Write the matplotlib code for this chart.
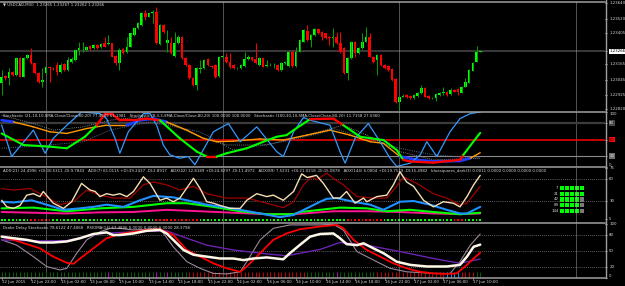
import numpy as np
import matplotlib
matplotlib.use("Agg")
import matplotlib.pyplot as plt
from matplotlib.collections import LineCollection
from matplotlib.lines import Line2D
from matplotlib.transforms import blended_transform_factory

plt.rcParams['font.family'] = ['DejaVu Sans']

# ---- USDCAD M30 candles (bar 0 = 12 Jun 18:00) ----
opens = [
    1.23018, 1.23075, 1.23057, 1.23108, 1.23082, 1.23212, 1.23070, 1.23212, 1.23237, 1.23173,
    1.23101, 1.23031, 1.23095, 1.23147, 1.23137, 1.23160, 1.23108, 1.23168, 1.23121, 1.23186,
    1.23199, 1.23276, 1.23281, 1.23276, 1.23307, 1.23289, 1.23315, 1.23297, 1.23333, 1.23322,
    1.23328, 1.23230, 1.23178, 1.23281, 1.23263, 1.23302, 1.23392, 1.23444, 1.23469, 1.23560,
    1.23534, 1.23560, 1.23573, 1.23320, 1.23469, 1.23328, 1.23333, 1.23230, 1.23328, 1.23379,
    1.23212, 1.23160, 1.23057, 1.23005, 1.23131, 1.23134, 1.23204, 1.23152, 1.23160, 1.23075,
    1.23219, 1.23224, 1.23186, 1.23160, 1.23134, 1.23134, 1.23152, 1.23204, 1.23219, 1.23204,
    1.23160, 1.23212, 1.23155, 1.23157, 1.23157, 1.23160, 1.23121, 1.23173, 1.23152, 1.23263,
    1.23152, 1.23263, 1.23340, 1.23426, 1.23353, 1.23392, 1.23436, 1.23415, 1.23405, 1.23379,
    1.23366, 1.23379, 1.23328, 1.23289, 1.23095, 1.23212, 1.23340, 1.23250, 1.23289, 1.23340,
    1.23379, 1.23224, 1.23199, 1.23237, 1.23160, 1.23152, 1.23126, 1.23049, 1.22876, 1.22915,
    1.22928, 1.22920, 1.22902, 1.22920, 1.22941, 1.22979, 1.22920, 1.22902, 1.22902, 1.22928,
    1.22941, 1.22948, 1.22933, 1.22966, 1.22972, 1.22946, 1.22992, 1.23023, 1.23116, 1.23186,
    1.23263]
highs = [
    1.23121, 1.23082, 1.23134, 1.23116, 1.23219, 1.23219, 1.23224, 1.23245, 1.23289, 1.23178,
    1.23108, 1.23134, 1.23152, 1.23152, 1.23147, 1.23186, 1.23173, 1.23178, 1.23224, 1.23219,
    1.23281, 1.23340, 1.23340, 1.23307, 1.23315, 1.23322, 1.23322, 1.23328, 1.23379, 1.23392,
    1.23333, 1.23237, 1.23289, 1.23289, 1.23379, 1.23410, 1.23457, 1.23495, 1.23573, 1.23586,
    1.23565, 1.23586, 1.23611, 1.23477, 1.23477, 1.23431, 1.23374, 1.23418, 1.23392, 1.23384,
    1.23219, 1.23168, 1.23064, 1.23142, 1.23199, 1.23209, 1.23212, 1.23160, 1.23168, 1.23224,
    1.23237, 1.23250, 1.23255, 1.23168, 1.23147, 1.23168, 1.23263, 1.23237, 1.23224, 1.23328,
    1.23219, 1.23217, 1.23199, 1.23173, 1.23173, 1.23168, 1.23186, 1.23193, 1.23271, 1.23276,
    1.23302, 1.23359, 1.23436, 1.23469, 1.23400, 1.23444, 1.23444, 1.23423, 1.23410, 1.23384,
    1.23444, 1.23418, 1.23418, 1.23302, 1.23219, 1.23348, 1.23348, 1.23297, 1.23405, 1.23457,
    1.23405, 1.23230, 1.23245, 1.23245, 1.23168, 1.23160, 1.23134, 1.23057, 1.22928, 1.22933,
    1.22935, 1.22928, 1.22935, 1.22954, 1.23005, 1.22987, 1.22928, 1.22915, 1.22941, 1.22954,
    1.22992, 1.22961, 1.22979, 1.22972, 1.22979, 1.23000, 1.23057, 1.23129, 1.23186, 1.23307,
    1.23271]
lows = [
    1.22928, 1.23044, 1.23005, 1.23075, 1.23075, 1.23064, 1.23064, 1.23204, 1.23168, 1.23090,
    1.23023, 1.22992, 1.23090, 1.23031, 1.23121, 1.23082, 1.23101, 1.23116, 1.23116, 1.23178,
    1.23193, 1.23237, 1.23263, 1.23271, 1.23276, 1.23284, 1.23281, 1.23289, 1.23297, 1.23315,
    1.23219, 1.23160, 1.23121, 1.23245, 1.23250, 1.23297, 1.23387, 1.23436, 1.23464, 1.23508,
    1.23529, 1.23482, 1.23322, 1.23315, 1.23410, 1.23263, 1.23245, 1.23219, 1.23322, 1.23204,
    1.23152, 1.23049, 1.22997, 1.22966, 1.23095, 1.23126, 1.23152, 1.23134, 1.23057, 1.23070,
    1.23212, 1.23178, 1.23139, 1.23126, 1.23126, 1.23129, 1.23147, 1.23199, 1.23193, 1.23165,
    1.23152, 1.23142, 1.23147, 1.23152, 1.23134, 1.23116, 1.23116, 1.23168, 1.23147, 1.23147,
    1.23147, 1.23258, 1.23335, 1.23348, 1.23302, 1.23387, 1.23400, 1.23353, 1.23361, 1.23315,
    1.23302, 1.23322, 1.23255, 1.23090, 1.23044, 1.23206, 1.23224, 1.23245, 1.23284, 1.23335,
    1.23219, 1.23178, 1.23082, 1.23152, 1.23126, 1.23113, 1.23039, 1.22868, 1.22812, 1.22910,
    1.22907, 1.22897, 1.22894, 1.22915, 1.22935, 1.22910, 1.22894, 1.22894, 1.22884, 1.22923,
    1.22928, 1.22923, 1.22928, 1.22948, 1.22928, 1.22941, 1.22987, 1.23018, 1.23111, 1.23181,
    1.23258]
closes = [
    1.23070, 1.23057, 1.23108, 1.23082, 1.23212, 1.23070, 1.23212, 1.23237, 1.23173, 1.23095,
    1.23031, 1.23044, 1.23147, 1.23137, 1.23134, 1.23108, 1.23160, 1.23121, 1.23199, 1.23204,
    1.23276, 1.23289, 1.23286, 1.23302, 1.23281, 1.23315, 1.23289, 1.23320, 1.23302, 1.23333,
    1.23224, 1.23173, 1.23276, 1.23250, 1.23302, 1.23405, 1.23444, 1.23482, 1.23560, 1.23534,
    1.23560, 1.23573, 1.23328, 1.23469, 1.23418, 1.23353, 1.23250, 1.23328, 1.23379, 1.23212,
    1.23160, 1.23057, 1.23005, 1.23134, 1.23137, 1.23199, 1.23160, 1.23144, 1.23070, 1.23219,
    1.23227, 1.23186, 1.23147, 1.23134, 1.23139, 1.23160, 1.23204, 1.23219, 1.23199, 1.23173,
    1.23212, 1.23147, 1.23162, 1.23162, 1.23160, 1.23121, 1.23178, 1.23183, 1.23263, 1.23152,
    1.23263, 1.23353, 1.23431, 1.23353, 1.23392, 1.23436, 1.23405, 1.23379, 1.23366, 1.23366,
    1.23379, 1.23328, 1.23263, 1.23095, 1.23212, 1.23340, 1.23250, 1.23289, 1.23340, 1.23374,
    1.23224, 1.23186, 1.23237, 1.23160, 1.23134, 1.23121, 1.23044, 1.22876, 1.22915, 1.22923,
    1.22915, 1.22902, 1.22928, 1.22946, 1.22979, 1.22915, 1.22902, 1.22904, 1.22933, 1.22946,
    1.22948, 1.22928, 1.22966, 1.22954, 1.22954, 1.22992, 1.23031, 1.23121, 1.23178, 1.23263,
    1.23266]
bid = 1.23266
price_ticks = [1.23640, 1.23520, 1.23405, 1.23165, 1.23045, 1.22925, 1.22820]

x_labels = ["12 Jun 2015", "12 Jun 22:00", "15 Jun 02:00", "15 Jun 06:00", "15 Jun 10:00",
            "15 Jun 14:00", "15 Jun 18:00", "15 Jun 22:00", "16 Jun 02:00", "16 Jun 06:00",
            "16 Jun 10:00", "16 Jun 14:00", "16 Jun 18:00", "16 Jun 22:00", "17 Jun 02:00",
            "17 Jun 06:00", "17 Jun 10:00"]
label_step = 8
day_starts = [12, 60, 108, 156]

# ---- stochastics (bar, value) ----
stoch_fast = [(0, 76), (2.7, 19), (8.6, 67), (11.8, 25), (14, 52), (17.7, 76), (21.7, 100),
              (26.7, 97), (28.5, 88), (30.8, 52), (32.1, 25), (34.4, 64), (38.5, 97), (40.3, 97),
              (42.1, 76), (43.9, 40), (45.7, 22), (48.4, 16), (50.7, 19), (52.5, 4), (57.5, 64),
              (61.6, 79), (64.8, 46), (69.3, 73), (74.7, 28), (76.5, 19), (79.3, 64), (82, 90),
              (83.8, 85), (89.2, 76), (91.9, 28), (93.3, 7), (96, 52), (99.6, 79), (102.8, 46),
              (105.5, 16), (107.3, 1), (111, 7), (113.7, 22), (115.5, 46), (118.2, 19),
              (121.8, 64), (124.5, 88), (127.3, 97), (130, 100)]
stoch_mid = [(0, 61), (5.9, 40), (13.1, 37), (17.7, 34), (22.6, 55), (25.8, 76), (28.1, 97),
             (29.9, 97), (32.1, 85), (35.8, 85), (39.4, 88), (43, 85), (48.4, 52), (53, 28),
             (55.7, 19), (58.4, 19), (61.1, 25), (66.6, 34), (71.1, 46), (74.7, 55), (77.4, 58),
             (79.3, 67), (83.8, 87), (90.1, 88), (92.8, 76), (97.4, 55), (100.5, 52), (103.7, 49),
             (107.3, 31), (109.1, 13), (111, 10), (117.3, 8), (124.5, 13), (125.4, 22),
             (129.5, 58), (130, 62)]
stoch_slow = [(0, 85), (3.2, 82), (8.6, 73), (13.1, 64), (17.7, 61), (23.1, 70), (28.5, 76),
              (34, 76), (37.6, 85), (41.2, 88), (44.8, 82), (50.3, 67), (54.8, 52), (58.4, 46),
              (62.9, 47), (70.2, 51), (76.5, 49), (82.9, 58), (89.2, 67), (94.6, 58), (100.1, 46),
              (103.7, 43), (108.2, 19), (112.8, 13), (117.3, 10), (124.5, 11), (127.3, 16),
              (130, 26)]
stoch_sig_a = [(0, 94), (8.6, 79), (14, 67), (22.2, 73), (29.4, 85), (37.6, 91), (46.6, 76),
               (53.9, 55), (61.1, 40), (72, 40), (81.1, 55), (92.8, 76), (99.2, 58), (108.2, 28),
               (117.3, 13), (130, 16)]
stoch_sig_b = [(0, 34), (13.1, 40), (22.2, 46), (29.4, 67), (40.3, 82), (53.9, 64), (62.9, 31),
               (76.5, 46), (86.5, 61), (90.1, 70), (99.2, 52), (108.2, 34), (117.3, 22), (130, 16)]

# ---- ADX pane ----
adx_fast = [(0, 31), (1.4, 22), (3.2, 20), (5, 24), (6.8, 38), (8.6, 40), (10.4, 36), (11.3, 43),
            (14, 27), (16.8, 20), (19, 29), (21.7, 54), (24, 45), (25.4, 43), (26.7, 36),
            (28.5, 40), (30.3, 38), (32.1, 40), (34, 36), (35.8, 43), (38.5, 63), (40.3, 54),
            (43, 31), (44.8, 34), (46.6, 29), (48.4, 34), (52.1, 61), (53.9, 47), (55.7, 29),
            (57.5, 27), (59.3, 24), (62, 20), (64.8, 20), (66.6, 31), (69.3, 40), (72, 36),
            (73.8, 38), (76.5, 31), (79.3, 43), (81.5, 67), (83, 62), (85.5, 65), (87.4, 54),
            (90.1, 34), (91.9, 34), (93.7, 43), (96, 27), (98.3, 34), (99.2, 29), (101.9, 36),
            (104.6, 38), (106.4, 52), (108.2, 70), (110, 56), (111.9, 50), (114.6, 31),
            (117.3, 22), (120, 29), (122.7, 27), (124.5, 22), (126.4, 36), (128.2, 52), (130, 65)]
adx_21 = [(0, 47), (3.2, 45), (7.7, 47), (11.3, 38), (15.8, 25), (19.5, 29), (23.1, 45),
          (26.7, 38), (30.3, 34), (34.9, 34), (38.5, 52), (41.2, 56), (44.8, 52), (48.4, 45),
          (52.1, 50), (55.7, 40), (61.1, 34), (66.6, 34), (72, 27), (76.5, 21), (79.3, 29),
          (82, 52), (84.2, 63), (85.6, 59), (88.3, 68), (90.1, 61), (92.8, 52), (96.5, 36),
          (101, 34), (104.6, 34), (107.3, 50), (109.1, 63), (112.8, 54), (117.3, 40),
          (120.9, 34), (124.5, 25), (126.4, 27), (130, 50)]
adx_42 = [(0, 29), (3.2, 28), (8.1, 31), (12.2, 25), (16.8, 18), (21.3, 20), (24.9, 22),
          (28.5, 25), (33.1, 22), (37.6, 31), (41.2, 37), (46.6, 35), (50.3, 31), (55.7, 25),
          (61.1, 21), (64.8, 18), (70.2, 13), (75.6, 8), (79.3, 11), (82.9, 20), (86.5, 29),
          (88.3, 33), (91, 34), (95.6, 29), (100.1, 25), (103.7, 18), (108.2, 29), (111.9, 30),
          (116.4, 25), (120.9, 18), (124.5, 13), (126.4, 13), (130, 22)]
adx_89 = [(0, 20), (8.6, 21), (17.7, 16), (26.7, 20), (35.8, 22), (44.8, 27), (50.3, 27),
          (57.5, 22), (64.8, 16), (72, 12), (79.3, 12), (81.1, 15), (86.5, 18), (91.9, 21),
          (99.2, 20), (104.6, 16), (111, 18), (117.3, 15), (124.5, 12), (130, 14)]
adx_144 = [(0, 15), (8.6, 14), (17.7, 13), (26.7, 14.5), (35.8, 15), (44.8, 18), (53.9, 16),
           (62.9, 14), (72, 12), (79.3, 12), (90.1, 16), (99.2, 16), (108.2, 15), (117.3, 13),
           (124.5, 12), (130, 13)]
adx_dot_runs = [('g', 8), ('r', 6), ('g', 28), ('r', 12), ('g', 40), ('r', 10), ('g', 19),
                ('r', 3), ('g', 5)]
square_periods = ['7', '21', '42', '89', '144']
square_states = ['ggggg', 'ggggg', 'ggggx', 'ggggx', 'ggggx']

# ---- Drake delay stochastic / RSIOMA ----
drake_white = [(0, 77), (3.2, 74), (6.8, 71), (10.4, 66), (14, 66), (17.7, 68), (21.3, 74),
               (24.9, 82), (28.5, 85), (30.3, 80), (32.1, 80), (35.8, 83), (39.4, 88), (43, 89.5),
               (44.8, 83), (46.6, 71), (49.4, 52), (52.1, 43), (55.7, 39.5), (59.3, 36),
               (62.9, 36), (65.7, 33), (68.4, 36), (72, 38), (76.5, 34.5), (78.3, 46), (81.1, 62),
               (83.8, 77), (86.5, 82), (90.1, 83), (91.9, 74), (93.7, 63), (96.5, 61),
               (98.3, 64.5), (101, 55), (103.7, 46), (107.3, 30), (111, 24), (115.5, 21),
               (120.9, 21), (124.5, 24), (126.4, 39.5), (128.2, 58), (130, 62)]
drake_red = [(0, 77), (3.2, 71), (6.8, 63), (10.4, 55), (14, 39.5), (17.7, 28), (19.5, 26),
             (21.3, 36), (24.9, 55), (28.5, 74), (32.1, 82), (35.8, 86), (39.4, 89.5), (43, 91),
             (46.6, 80), (50.3, 52), (53.9, 39.5), (57.5, 27), (61.1, 17.6), (64.8, 11),
             (66.6, 21), (70.2, 46), (73.8, 71), (77.4, 83), (81.1, 91), (86.5, 96), (91, 99),
             (92.8, 93), (95.6, 71), (99.2, 52), (102.8, 39.5), (106.4, 27), (110, 17.6),
             (113.7, 11), (117.3, 8), (120.9, 7), (123.6, 8), (126.4, 24), (128.2, 36), (130, 47)]
drake_purple = [(0, 71), (8.6, 69), (17.7, 69.5), (26.7, 83), (35.8, 86), (44.8, 88), (50.3, 74),
                (55.7, 61), (62.9, 52), (70.2, 46), (77.4, 41), (86.5, 53), (91.9, 66),
                (99.2, 61), (108.2, 49), (117.3, 36), (124.5, 27), (130, 35)]
drake_gray = [(0, 71), (4.1, 61), (8.6, 39.5), (12.2, 21), (15.8, 14.5), (17.7, 17.6),
              (20.4, 46), (23.1, 71), (26.7, 86), (29.4, 92.6), (32.1, 92.6), (35.8, 89.5),
              (39.4, 91), (43, 92.6), (46.6, 58), (50.3, 30), (53.9, 17.6), (57.5, 8), (61.1, 7),
              (64.8, 11), (66.6, 30), (70.2, 71), (73.8, 92.6), (78.3, 99), (86.5, 99),
              (90.1, 100), (92.8, 89.5), (96.5, 49), (99.2, 39.5), (101.9, 30), (105.5, 17.6),
              (110, 11), (117.3, 8), (121.8, 8), (124.5, 30), (127.3, 61), (130, 82)]
drake_tick_runs = [('g', 29), ('m', 1), ('g', 12), ('m', 1), ('g', 2), ('m', 1), ('g', 5),
                   ('r', 32), ('g', 8), ('m', 1), ('g', 10), ('r', 19), ('b', 4), ('r', 4),
                   ('g', 2)]

hdr_main = "\u25bc USDCAD,M30  1.23265 1.23267 1.23262 1.23266"
hdr_stoch = ("Stochastic (21,10,10,SMA,Close/Close,80,20) 77.4549 61.1981   "
             "Stochastic (8,3,3,SMA,Close/Close,80,20) 100.0000 100.0000   "
             "Stochastic (100,30,10,SMA,Close/Close,80,20) 11.7158 27.0360")
hdr_adx = ("ADX(21) 24.4996 +DI:30.5311 -DI:9.7843   ADX(7) 65.0115 +DI:39.2437 -DI:2.8917   "
           "ADX(42) 12.8189 +DI:24.8297 -DI:11.4972   ADX(89) 7.5231 +DI:21.0218 -DI:15.0878   "
           "ADX(144) 6.0004 +DI:19.7529 -DI:15.4982   bluesquares_dark(3) 0.0011 0.0000 0.0000 0.0000 0.0000")
hdr_drake = "Drake Delay Stochastic 78.6122 47.4068   RSIOMA(14) 67.4806 0.0000 0.0000 0.0000 28.3798"

W, H = 625, 286
RIGHT = 605
FS = 2.8
TXT = '#d8d8d8'
BORDER = '#a0a0a0'


def runs_to_list(runs):
    out = []
    for col, n in runs:
        out += [col] * n
    return out


def xy(pts):
    a = np.array(pts, dtype=float)
    return a[:, 0], a[:, 1]


fig = plt.figure(figsize=(W / 100, H / 100), dpi=100, facecolor='black')


def pane(top, bottom, ylim):
    ax = fig.add_axes([0, 1 - bottom / H, RIGHT / W, (bottom - top) / H])
    ax.set_facecolor('black')
    ax.set_xlim(-0.46, 163.9)
    ax.set_ylim(*ylim)
    ax.set_xticks([])
    ax.set_yticks([])
    for s in ax.spines.values():
        s.set_visible(False)
    ax.spines['top'].set_visible(True)
    ax.spines['top'].set_color(BORDER)
    ax.spines['top'].set_linewidth(1.1)
    for d in day_starts:
        ax.axvline(d, color='#bdbdbd', lw=0.6, ls=(0, (1.2, 1.2)))
    return ax


def rlabel(ax, v, s, va='center', box=None, color=TXT):
    tr = ax.get_yaxis_transform()
    ax.plot([1.0, 1.004], [v, v], transform=tr, color=BORDER, lw=0.5, clip_on=False)
    kw = {}
    if box:
        kw['bbox'] = dict(facecolor=box, edgecolor='none', pad=0.5)
    ax.text(1.007, v, s, transform=tr, fontsize=FS, color=color, va=va, ha='left',
            clip_on=False, **kw)


def seg_line(ax, pts, base, hot, lw_base, lw_hot, lo=20, hi=80):
    x, y = xy(pts)
    segs = np.stack([np.column_stack([x[:-1], y[:-1]]), np.column_stack([x[1:], y[1:]])], axis=1)
    mid = (y[:-1] + y[1:]) / 2
    hotmask = (mid > hi) | (mid < lo)
    ax.add_collection(LineCollection(segs, colors=[hot if m else base for m in hotmask],
                                     linewidths=[lw_hot if m else lw_base for m in hotmask],
                                     capstyle='round', joinstyle='round'))


# ---- main pane ----
ax = pane(2, 111, (1.22804, 1.23648))
o, h, l, c = map(np.array, (opens, highs, lows, closes))
xb = np.arange(len(c))
up = c >= o
ax.vlines(xb, l, h, colors=np.where(up, '#00a000', '#ff0000'), lw=0.7)
ax.bar(xb, np.maximum(np.abs(c - o), 0.000025), bottom=np.minimum(o, c), width=0.72,
       color=np.where(up, '#00ff00', '#ff0000'), linewidth=0)
ax.axhline(bid, color='#3a3a3a', lw=1.4, zorder=0)
for p in price_ticks:
    rlabel(ax, p, f"{p:.5f}")
rlabel(ax, bid, f"{bid:.5f}", box='white', color='black')
fig.text(3 / W, 1 - 5 / H, hdr_main, fontsize=FS, color=TXT, va='center', ha='left')

# ---- stochastic pane ----
ax = pane(112, 167, (0, 100))
ax.axhline(80, color='#3c3c3c', lw=1.6)
ax.axhline(50, color='#ff0000', lw=1.1)
ax.axhline(20, color='#8a8a8a', lw=0.8)
x, y = xy(stoch_sig_a)
ax.plot(x, y, color='#9a9a9a', lw=0.6, ls=(0, (1, 1.3)))
x, y = xy(stoch_sig_b)
ax.plot(x, y, color='#5a6a8a', lw=0.7, ls=(0, (1, 1.3)))
seg_line(ax, stoch_slow, '#ff9900', '#1e3cff', 1.0, 2.0)
x, y = xy(stoch_fast)
ax.plot(x, y, color='#3399ff', lw=0.9)
seg_line(ax, stoch_mid, '#00ff00', '#ff0000', 1.5, 1.7)
rlabel(ax, 100, '100', va='top')
rlabel(ax, 80, '80', box='#4a4a4a')
rlabel(ax, 50, '50', box='#ff0000', color='#200000')
rlabel(ax, 20, '20', box='#6e6e6e')
rlabel(ax, 0, '0', va='bottom')
fig.text(3 / W, 1 - 116 / H, hdr_stoch, fontsize=FS, color=TXT, va='center', ha='left')

# ---- ADX pane ----
ax = pane(167, 223, (0, 76.4))
ax.axhline(60, color='#808080', lw=0.6, ls=(0, (1, 1.5)))
ax.axhline(30, color='#808080', lw=0.6, ls=(0, (1, 1.5)))
for pts, col, lw in [(adx_144, '#ff1493', 1.4), (adx_89, '#00ff00', 1.5),
                     (adx_42, '#1e90ff', 1.5), (adx_21, '#a00000', 0.9),
                     (adx_fast, '#f5deb3', 1.0)]:
    x, y = xy(pts)
    ax.plot(x, y, color=col, lw=lw, solid_capstyle='round')
dot_cols = {'g': '#00ff00', 'r': '#ff0000'}
dots = runs_to_list(adx_dot_runs)
ax.scatter(np.arange(len(dots)), [4.3] * len(dots), marker='s', s=1.6,
           c=[dot_cols[d] for d in dots], linewidths=0)
sq_x0 = 152.3
for row, (per, st) in enumerate(zip(square_periods, square_states)):
    yv = 47.7 - row * 7.8
    ax.text(sq_x0 - 1.0, yv, per, fontsize=FS, color=TXT, ha='right', va='center')
    ax.scatter(sq_x0 + np.arange(len(st)) * 1.36, [yv] * len(st), marker='s', s=9,
               c=['#00ff00' if s == 'g' else '#7a7a7a' for s in st], linewidths=0)
for v in [75, 60, 30, 5]:
    rlabel(ax, v, str(v))
fig.text(3 / W, 1 - 171 / H, hdr_adx, fontsize=FS, color=TXT, va='center', ha='left')

# ---- Drake pane ----
ax = pane(223, 278, (-0.6, 102.6))
ax.spines['bottom'].set_visible(True)
ax.spines['bottom'].set_color(BORDER)
ax.spines['bottom'].set_linewidth(1.1)
for v in [80, 50, 20]:
    ax.axhline(v, color='#808080', lw=0.6, ls=(0, (1, 1.5)))
tick_cols = {'g': '#006400', 'r': '#c00000', 'm': '#c000c0', 'b': '#1e90ff'}
ticks = runs_to_list(drake_tick_runs)
ax.vlines(np.arange(len(ticks)), 2, 11, colors=[tick_cols[t] for t in ticks], lw=0.7)
for pts, col, lw in [(drake_gray, '#9c879c', 0.8), (drake_purple, '#6a24b0', 1.0),
                     (drake_red, '#ff0000', 1.3), (drake_white, '#fff8e8', 1.8)]:
    x, y = xy(pts)
    ax.plot(x, y, color=col, lw=lw, solid_capstyle='round')
rlabel(ax, 100, '100')
for v in [80, 50, 20]:
    rlabel(ax, v, str(v))
rlabel(ax, 0, '0', va='bottom')
fig.text(3 / W, 1 - 228 / H, hdr_drake, fontsize=FS, color=TXT, va='center', ha='left')

tr = blended_transform_factory(ax.transData, fig.transFigure)
for k, lab in enumerate(x_labels):
    b = k * label_step
    fig.add_artist(Line2D([b, b], [1 - 278 / H, 1 - 280 / H], transform=tr, color=BORDER, lw=0.5))
    fig.text(b, 1 - 282 / H, lab, transform=tr, fontsize=FS, color=TXT, va='center', ha='left')

fig.add_artist(Line2D([RIGHT / W + 0.0008] * 2, [1 - 278 / H, 1], transform=fig.transFigure,
                      color=BORDER, lw=1.0))

fig.savefig('out.png', dpi=100, facecolor='black')
